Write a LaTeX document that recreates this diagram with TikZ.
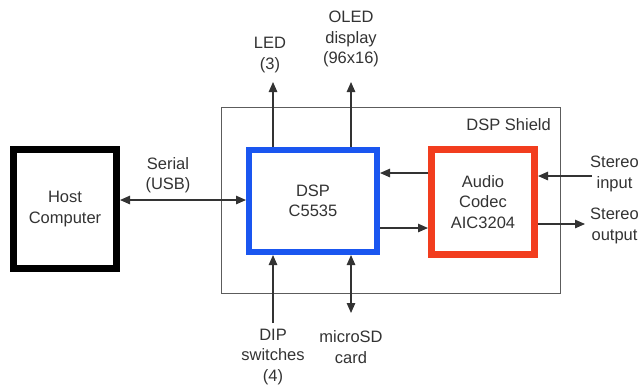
\documentclass[tikz,border=0pt]{standalone}
\usepackage{fontspec}
\setmainfont{Liberation Sans}
\usetikzlibrary{arrows.meta}
\definecolor{dspblue}{HTML}{1A56F0}
\definecolor{codecred}{HTML}{F23D1E}
\definecolor{txt}{HTML}{333333}
\begin{document}
\begin{tikzpicture}[x=1pt,y=-1pt,
  lbl/.style={text=txt,font=\fontsize{16.5}{20.5}\selectfont,align=center,inner sep=0pt},
  conn/.style={draw=txt,line width=1.2pt,-{Triangle[length=10pt,width=8.5pt]}},
  dconn/.style={draw=txt,line width=1.2pt,{Triangle[length=10pt,width=8.5pt]}-{Triangle[length=10pt,width=8.5pt]}}]
\useasboundingbox (0,0) rectangle (644,389);
% shield
\node[draw=txt!80,line width=0.9pt,minimum width=339pt,minimum height=186pt,inner sep=0pt] (shield) at (390.5,200) {};
\node[lbl,anchor=north east] (shieldlbl) at (551,118) {DSP Shield};
% boxes
\node[draw=black,line width=7pt,minimum width=103pt,minimum height=119pt,lbl] (host) at (65,209) {Host\\Computer};
\node[draw=dspblue,line width=6pt,minimum width=128pt,minimum height=102pt,lbl] (dsp) at (313,201) {DSP\\C5535};
\node[draw=codecred,line width=7pt,minimum width=103pt,minimum height=105pt,lbl] (codec) at (483,202) {Audio\\Codec\\AIC3204};
% coordinates
\coordinate (ledend) at (273,82);
\coordinate (oledend) at (351,82);
\coordinate (dipend) at (273,323);
\coordinate (sdend) at (351,313);
\coordinate (sinend) at (592,176);
\coordinate (soutend) at (585,224);
% labels
\node[lbl] (ledlbl) at (270,55) {LED\\(3)};
\node[lbl] (oledlbl) at (351,39) {OLED\\display\\(96x16)};
\node[lbl] (serlbl) at (168,175) {Serial\\(USB)};
\node[lbl] (diplbl) at (273,357) {DIP\\switches\\(4)};
\node[lbl] (sdlbl) at (351,347) {microSD\\card};
\node[lbl,anchor=west] (sinlbl) at (590,174) {Stereo\\input};
\node[lbl,anchor=west] (soutlbl) at (590,226) {Stereo\\output};
% connectors
\draw[conn] (dsp.north -| ledend) -- (ledend);
\draw[conn] (dsp.north -| oledend) -- (oledend);
\draw[conn] (dipend) -- (dsp.south -| dipend);
\draw[dconn] (dsp.south -| sdend) -- (sdend);
\draw[dconn] (host.east |- 0,200) -- (dsp.west |- 0,200);
\draw[conn] (codec.west |- 0,173) -- (dsp.east |- 0,173);
\draw[conn] (dsp.east |- 0,228) -- (codec.west |- 0,228);
\draw[conn] (sinend) -- (codec.east |- sinend);
\draw[conn] (codec.east |- soutend) -- (soutend);
\end{tikzpicture}
\end{document}
